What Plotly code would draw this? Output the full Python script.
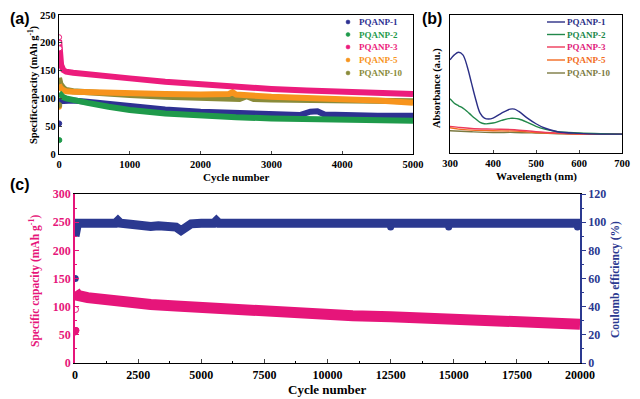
import plotly.graph_objects as go

# ---------------- Panel (a): cycling of PQANP samples ----------------
a_cyc_1 = [1, 20, 60, 100, 200, 400, 700, 1000, 1500, 2000, 2500, 3000, 3400, 3550, 3650, 3750, 4000, 4500, 5000]
a_pq1 = [95, 95, 96, 97, 96, 94, 90, 85, 80, 76, 73, 71, 70, 76, 77, 71, 70, 69, 69]
a_cyc_2 = [1, 20, 60, 100, 200, 400, 700, 1000, 1500, 2000, 2500, 3000, 3500, 4000, 4500, 5000]
a_pq2 = [110, 106, 102, 100, 97, 92, 85, 79, 73, 69, 66, 64, 63, 62, 61, 60]
a_cyc_3 = [1, 10, 30, 60, 100, 200, 400, 700, 1000, 1500, 2000, 2500, 3000, 3500, 4000, 4500, 5000]
a_pq3 = [205, 178, 160, 151, 148, 146, 143, 140, 136, 130, 125, 121, 117, 114, 112, 110, 108]
a_cyc_5 = [1, 20, 60, 100, 200, 400, 700, 1000, 1500, 2000, 2400, 2450, 2500, 3000, 3500, 4000, 4500, 5000]
a_pq5 = [125, 119, 115, 113, 112, 111, 110, 109, 108, 107, 108, 111, 107, 103, 101, 99, 96, 92]
a_cyc_10 = [1, 20, 60, 100, 200, 400, 700, 1000, 1500, 2000, 2550, 2650, 2750, 3000, 3500, 4000, 4500, 5000]
a_pq10 = [137, 126, 119, 115, 113, 111, 108, 106, 103, 101, 99, 104, 99, 98, 97, 96, 95, 95]
# early outlier points
a_out_cyc = [2, 4, 3, 5, 2, 8, 4]
a_out_val = [210, 200, 55, 25, 85, 190, 88]
a_out_series = ["PQANP-3", "PQANP-3", "PQANP-1", "PQANP-2", "PQANP-5", "PQANP-3", "PQANP-10"]

# ---------------- Panel (b): UV-vis absorbance ----------------
wl_1 = [300, 310, 320, 330, 340, 350, 360, 370, 380, 390, 400, 420, 440, 450, 460, 480, 500, 520, 550, 600, 650, 700]
abs_1 = [0.675, 0.711, 0.730, 0.711, 0.627, 0.506, 0.386, 0.289, 0.253, 0.246, 0.253, 0.289, 0.318, 0.318, 0.301, 0.253, 0.212, 0.181, 0.154, 0.142, 0.137, 0.137]
wl_2 = [300, 310, 320, 330, 340, 350, 360, 370, 380, 400, 420, 440, 450, 460, 480, 500, 520, 550, 600, 650, 700]
abs_2 = [0.393, 0.361, 0.342, 0.325, 0.301, 0.272, 0.246, 0.222, 0.212, 0.217, 0.236, 0.251, 0.251, 0.246, 0.222, 0.193, 0.173, 0.154, 0.145, 0.140, 0.137]
wl_3 = [300, 320, 350, 400, 450, 500, 550, 600, 700]
abs_3 = [0.193, 0.186, 0.178, 0.173, 0.169, 0.154, 0.145, 0.140, 0.137]
wl_5 = [300, 320, 350, 400, 450, 500, 550, 600, 700]
abs_5 = [0.183, 0.173, 0.166, 0.161, 0.159, 0.149, 0.142, 0.137, 0.137]
wl_10 = [300, 350, 400, 450, 500, 550, 600, 700]
abs_10 = [0.161, 0.154, 0.149, 0.149, 0.145, 0.140, 0.137, 0.135]

# ---------------- Panel (c): long cycling ----------------
c_cap_cyc = [1, 50, 100, 500, 1000, 2000, 2500, 3000, 4000, 5000, 6000, 7500, 9000, 10000, 11000, 12500, 14000, 15000, 16500, 17500, 19000, 20000]
c_cap = [127, 122, 120, 116, 113, 108, 106, 104, 101, 98, 95, 91, 88, 86, 84, 82, 79, 77, 75, 73, 71, 69]
c_cap_out_cyc = [5, 40, 20]
c_cap_out = [55, 58, 95]
c_ce_cyc = [1, 40, 100, 1000, 1600, 1700, 1800, 2200, 2600, 3000, 3300, 3700, 4000, 4200, 4400, 4600, 5000, 5500, 5600, 5700, 8000, 12000, 16000, 20000]
c_ce = [90, 99, 99.3, 99.3, 99.3, 101, 99.3, 98.5, 97.5, 97, 97.5, 96.5, 96.5, 94, 96, 98.8, 99.3, 99.3, 101, 99.3, 99.3, 99.3, 99.3, 99.3]
c_ce_out_cyc = [8, 12500, 14800, 19900]
c_ce_out = [60, 96.5, 96.5, 96.5]

# tick labels
a_xticks = [0, 1000, 2000, 3000, 4000, 5000]
a_yticks = [0, 50, 100, 150, 200, 250]
b_xticks = [300, 400, 500, 600, 700]
c_xticks = [0, 2500, 5000, 7500, 10000, 12500, 15000, 17500, 20000]
c_xticklabels = ["0", "2500", "5000", "7500", "10000", "12500", "15000", "17500", "20000"]

names = ["PQANP-1", "PQANP-2", "PQANP-3", "PQANP-5", "PQANP-10"]
col_a = {"PQANP-1": "#2E3192", "PQANP-2": "#1F9A4B", "PQANP-3": "#EC1C7C", "PQANP-5": "#F7941D", "PQANP-10": "#8A8B3A"}
col_b = {"PQANP-1": "#2B2F86", "PQANP-2": "#22884A", "PQANP-3": "#EE3A5A", "PQANP-5": "#F26B21", "PQANP-10": "#7C7A42"}
col_b_text = {"PQANP-1": "#2B2F86", "PQANP-2": "#22884A", "PQANP-3": "#E0217A", "PQANP-5": "#F26B21", "PQANP-10": "#7C7A42"}
PINK = "#E6157A"
NAVY = "#2B3990"

# the page has an 8px body margin: the figure is sized to fit the window after it
OFF = 8
W, H = 640 - OFF, 399 - OFF
def px(x):
    return (x - OFF) / W
def py(y):
    return 1 - (y - OFF) / H

SERIF = "Liberation Serif"
fig = go.Figure()

a_data = {
    "PQANP-1": (a_cyc_1, a_pq1),
    "PQANP-2": (a_cyc_2, a_pq2),
    "PQANP-3": (a_cyc_3, a_pq3),
    "PQANP-5": (a_cyc_5, a_pq5),
    "PQANP-10": (a_cyc_10, a_pq10),
}
for n in ["PQANP-10", "PQANP-5", "PQANP-1", "PQANP-2", "PQANP-3"]:
    xs, ys = a_data[n]
    fig.add_trace(go.Scatter(x=xs, y=ys, mode="lines", line=dict(color=col_a[n], width=6),
                             showlegend=False, xaxis="x", yaxis="y"))
for cx, cv, s in zip(a_out_cyc, a_out_val, a_out_series):
    fig.add_trace(go.Scatter(x=[cx], y=[cv], mode="markers",
                             marker=dict(color="white" if s == "PQANP-3" else col_a[s], size=5,
                                         line=dict(color=col_a[s], width=1)),
                             showlegend=False, xaxis="x", yaxis="y"))

b_data = {
    "PQANP-1": (wl_1, abs_1),
    "PQANP-2": (wl_2, abs_2),
    "PQANP-3": (wl_3, abs_3),
    "PQANP-5": (wl_5, abs_5),
    "PQANP-10": (wl_10, abs_10),
}
for n in ["PQANP-10", "PQANP-5", "PQANP-3", "PQANP-2", "PQANP-1"]:
    xs, ys = b_data[n]
    fig.add_trace(go.Scatter(x=xs, y=ys, mode="lines", line=dict(color=col_b[n], width=1.4, shape="spline"),
                             showlegend=False, xaxis="x2", yaxis="y2"))

# panel (c)
fig.add_trace(go.Scatter(x=c_cap_cyc, y=c_cap, mode="lines", line=dict(color=PINK, width=11),
                         showlegend=False, xaxis="x3", yaxis="y3"))
fig.add_trace(go.Scatter(x=c_cap_out_cyc, y=c_cap_out, mode="markers",
                         marker=dict(color=["#E6157A", "#E6157A", "white"], size=6, line=dict(color=PINK, width=1)),
                         showlegend=False, xaxis="x3", yaxis="y3"))
fig.add_trace(go.Scatter(x=c_ce_cyc, y=c_ce, mode="lines", line=dict(color=NAVY, width=9),
                         showlegend=False, xaxis="x3", yaxis="y4"))
fig.add_trace(go.Scatter(x=c_ce_out_cyc, y=c_ce_out, mode="markers",
                         marker=dict(color=NAVY, size=7),
                         showlegend=False, xaxis="x3", yaxis="y4"))

tickfont_a = dict(family=SERIF, size=10.5, color="black", weight="bold")
tickfont_c = dict(family=SERIF, size=12, color="black", weight="bold")

fig.update_layout(
    width=W, height=H, margin=dict(l=0, r=0, t=0, b=0, autoexpand=False),
    paper_bgcolor="white", plot_bgcolor="white", showlegend=False,
    xaxis=dict(domain=[px(59), px(413)], anchor="y", range=[0, 5000], tickvals=a_xticks, automargin=False,
               showline=True, linecolor="black", linewidth=1.2, mirror=True, showgrid=False, zeroline=False,
               ticks="inside", ticklen=3, tickfont=tickfont_a),
    yaxis=dict(domain=[py(154), py(15)], anchor="x", range=[0, 250], tickvals=a_yticks, automargin=False,
               showline=True, linecolor="black", linewidth=1.2, mirror=True, showgrid=False, zeroline=False,
               ticks="inside", ticklen=3, tickfont=tickfont_a),
    xaxis2=dict(domain=[px(450), px(622)], anchor="y2", range=[300, 700], tickvals=b_xticks, automargin=False,
                showline=True, linecolor="black", linewidth=1.2, mirror=True, showgrid=False, zeroline=False,
                ticks="inside", ticklen=3, tickfont=tickfont_a),
    yaxis2=dict(domain=[py(153), py(15)], anchor="x2", range=[0, 1], showticklabels=False, automargin=False,
                showline=True, linecolor="black", linewidth=1.2, mirror=True, showgrid=False, zeroline=False,
                ticks=""),
    xaxis3=dict(domain=[px(75), px(580)], anchor="y3", range=[0, 20000], tickvals=c_xticks,
                ticktext=c_xticklabels, automargin=False,
                showline=True, linecolor="black", linewidth=1.2, mirror=True, showgrid=False, zeroline=False,
                ticks="inside", ticklen=4, tickfont=tickfont_c,
                minor=dict(ticks="inside", ticklen=2, dtick=1250, tickcolor="black")),
    yaxis3=dict(domain=[py(363), py(194)], anchor="x3", range=[0, 300], dtick=50, automargin=False,
                showline=True, linecolor=PINK, linewidth=1.5, showgrid=False, zeroline=False,
                ticks="inside", ticklen=4, tickcolor=PINK,
                tickfont=dict(family=SERIF, size=12, color=PINK, weight="bold"),
                minor=dict(ticks="inside", ticklen=2, dtick=25, tickcolor=PINK)),
    yaxis4=dict(domain=[py(363), py(194)], anchor="x3", overlaying="y3", side="right", range=[0, 120], dtick=20,
                automargin=False,
                showline=True, linecolor=NAVY, linewidth=1.5, showgrid=False, zeroline=False,
                ticks="outside", ticklen=4, tickcolor=NAVY,
                tickfont=dict(family=SERIF, size=12, color=NAVY, weight="bold"),
                minor=dict(ticks="outside", ticklen=2, dtick=10, tickcolor=NAVY)),
)

ann = []
def add_text(text, x, y, size, color="black", angle=0, family=SERIF, bold=True, xanchor="center",
             yanchor="middle"):
    ann.append(dict(text=("<b>%s</b>" % text) if bold else text, x=px(x), y=py(y), xref="paper", yref="paper",
                    showarrow=False, textangle=angle, xanchor=xanchor, yanchor=yanchor,
                    font=dict(family=family, size=size, color=color)))

# panel labels
add_text("(a)", 8, 8, 16, family="Liberation Sans", xanchor="left", yanchor="top")
add_text("(b)", 432, 8, 16, family="Liberation Sans", yanchor="top")
add_text("(c)", 8, 184, 16, family="Liberation Sans", xanchor="left")
# axis titles
add_text("Specificcapacity (mAh g<sup>-1</sup>)", 33, 85, 10.5, angle=-90)
add_text("Cycle number", 236, 177, 11)
add_text("Wavelength (nm)", 536, 176, 11)
add_text("Absorbance (a.u.)", 437, 88, 10.5, angle=-90)
add_text("Specific capacity (mAh g<sup>-1</sup>)", 34, 281, 11.5, color=PINK, angle=-90)
add_text("Coulomb efficiency (%)", 615, 280, 11.5, color=NAVY, angle=-90)
add_text("Cycle number", 327, 389, 13)

# manual legends
shapes = []
leg_y = [22, 34.5, 47, 60, 73]
for n, yy in zip(names, leg_y):
    shapes.append(dict(type="circle", xref="paper", yref="paper", x0=px(346), x1=px(350),
                       y0=py(yy + 2), y1=py(yy - 2), fillcolor=col_a[n], line=dict(color=col_a[n], width=0.5)))
    add_text(n, 357, yy, 9, color=col_a[n], xanchor="left")
    shapes.append(dict(type="line", xref="paper", yref="paper", x0=px(547), x1=px(565),
                       y0=py(yy), y1=py(yy), line=dict(color=col_b[n], width=1.4)))
    add_text(n, 565, yy, 9, color=col_b_text[n], xanchor="left")

fig.update_layout(annotations=ann, shapes=shapes)
fig.write_html("out.html")
